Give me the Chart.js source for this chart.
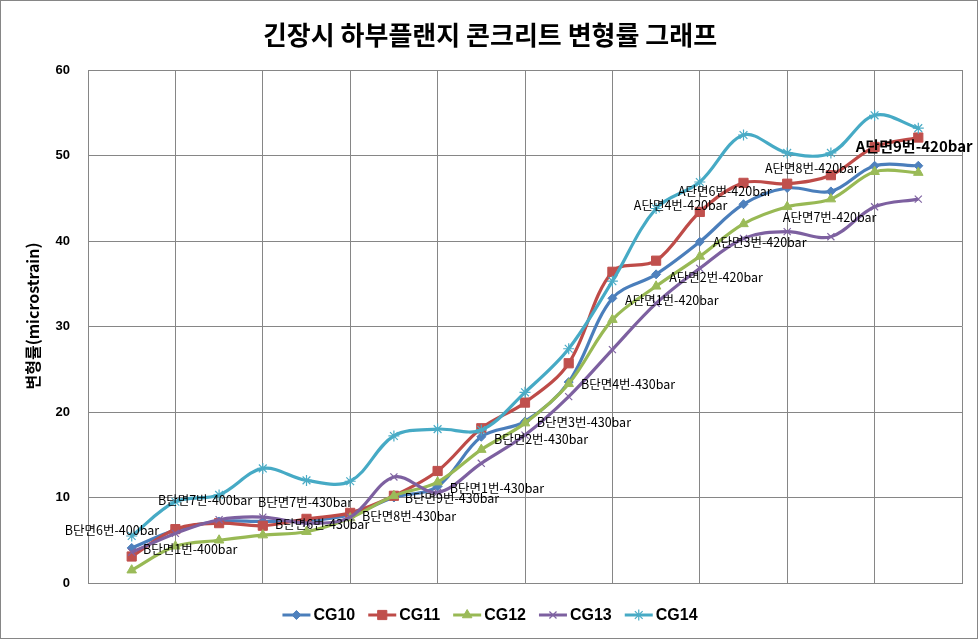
<!DOCTYPE html>
<html><head><meta charset="utf-8">
<script src="https://cdn.jsdelivr.net/npm/chart.js@4/dist/chart.umd.min.js"></script>
<style>html,body{margin:0;padding:0;background:#fff;}canvas{display:block}</style>
</head><body>
<canvas id="c" width="978" height="639"></canvas>
<script>
const chartTitle = '긴장시 하부플랜지 콘크리트 변형률 그래프';
const yAxisTitle = '변형률(microstrain)';
const seriesNames = ['CG10', 'CG11', 'CG12', 'CG13', 'CG14'];
const xPositions = [1, 2, 3, 4, 5, 6, 7, 8, 9, 10, 11, 12, 13, 14, 15, 16, 17, 18, 19];
const yTicks = [0, 10, 20, 30, 40, 50, 60];
const cg10 = [4.1, 6.2, 7.2, 7.2, 7.3, 8.0, 10.0, 11.3, 17.1, 18.9, 23.5, 33.3, 36.1, 39.9, 44.3, 46.2, 45.8, 48.8, 48.8];
const cg11 = [3.1, 6.3, 7.0, 6.7, 7.5, 8.2, 10.2, 13.1, 18.1, 21.1, 25.7, 36.4, 37.7, 43.4, 46.8, 46.7, 47.7, 51.0, 52.1];
const cg12 = [1.5, 4.3, 5.0, 5.6, 6.0, 7.6, 10.2, 11.8, 15.6, 18.7, 23.3, 30.8, 34.7, 38.2, 42.0, 44.0, 44.9, 48.1, 48.0];
const cg13 = [3.6, 5.8, 7.4, 7.7, 7.0, 7.7, 12.4, 10.6, 14.0, 17.3, 21.8, 27.3, 32.7, 36.8, 40.3, 41.1, 40.5, 44.0, 44.9];
const cg14 = [5.5, 9.5, 10.3, 13.4, 12.0, 11.9, 17.2, 18.0, 17.9, 22.3, 27.4, 35.3, 43.8, 46.9, 52.4, 50.3, 50.3, 54.7, 53.2];
const pointLabels = ['B단면6번-400bar', 'B단면1번-400bar', 'B단면7번-400bar', 'B단면7번-430bar', 'B단면6번-430bar',
  'B단면8번-430bar', 'B단면9번-430bar', 'B단면1번-430bar', 'B단면2번-430bar', 'B단면3번-430bar', 'B단면4번-430bar',
  'A단면1번-420bar', 'A단면2번-420bar', 'A단면3번-420bar', 'A단면4번-420bar', 'A단면6번-420bar', 'A단면7번-420bar',
  'A단면8번-420bar', 'A단면9번-420bar'];
// label anchors (left edge / vertical middle) in axis units
const labelAnchorX = [-0.53, 1.26, 1.60, 3.89, 4.28, 6.27, 7.25, 8.28, 9.29, 10.27, 11.28, 12.29, 13.30, 14.30, 12.49, 13.50, 15.90, 15.49, 17.57];
const labelAnchorY = [6.2, 3.9, 9.7, 9.4, 6.9, 7.8, 9.9, 11.1, 16.8, 18.8, 23.2, 33.1, 35.8, 39.8, 44.2, 45.8, 42.8, 48.5, 51.1];
const boldLabelIndex = 18;

const seriesValues = [cg10, cg11, cg12, cg13, cg14];
const lineColors = ['#4A7EBB', '#BE4B48', '#98B954', '#7D60A0', '#46AAC5'];
const markerColors = ['#4F81BD', '#C0504D', '#9BBB59', '#8064A2', '#4BACC6'];
const markerStyles = ['rectRot', 'rect', 'triangle', 'crossRot', 'star'];
const markerRadius = [4.5, 6.5, 5.5, 5, 5.5];
const markerBorder = [1, 1, 1, 1.2, 1.2];

const datasets = seriesNames.map((name, i) => ({
  label: name,
  data: xPositions.map((x, j) => ({ x: x, y: seriesValues[i][j] })),
  borderColor: lineColors[i],
  backgroundColor: markerColors[i],
  pointBackgroundColor: markerColors[i],
  pointBorderColor: markerColors[i],
  pointStyle: markerStyles[i],
  pointRadius: markerRadius[i],
  pointBorderWidth: markerBorder[i],
  borderWidth: 3.2,
  tension: 0.35,
  fill: false,
  order: 4 - i
}));

const FONT_KR = '"Noto Sans CJK KR", "Noto Sans", sans-serif';

const decor = {
  id: 'decor',
  beforeDraw(chart) {
    const ctx = chart.ctx;
    ctx.save();
    ctx.fillStyle = '#fff';
    ctx.fillRect(0, 0, chart.width, chart.height);
    ctx.restore();
  },
  afterDatasetsDraw(chart) {
    const ctx = chart.ctx;
    const xs = chart.scales.x, ys = chart.scales.y;
    ctx.save();
    ctx.fillStyle = '#000';
    ctx.textBaseline = 'middle';
    ctx.textAlign = 'left';
    pointLabels.forEach((t, i) => {
      ctx.font = (i === boldLabelIndex ? 'bold 15px ' : '12.5px ') + FONT_KR;
      ctx.fillText(t, xs.getPixelForValue(labelAnchorX[i]), ys.getPixelForValue(labelAnchorY[i]));
    });
    ctx.restore();
  },
  afterDraw(chart) {
    const ctx = chart.ctx;
    const area = chart.chartArea;
    ctx.save();
    // title
    ctx.fillStyle = '#000';
    ctx.font = 'bold 26px ' + FONT_KR;
    ctx.textAlign = 'center';
    ctx.textBaseline = 'middle';
    ctx.fillText(chartTitle, 490, 35);
    // y axis title
    ctx.save();
    ctx.translate(33, 316);
    ctx.rotate(-Math.PI / 2);
    ctx.font = 'bold 16px ' + FONT_KR;
    ctx.fillText(yAxisTitle, 0, 0);
    ctx.restore();
    // legend
    ctx.font = 'bold 16px "Liberation Sans", Arial, sans-serif';
    const lineLen = 28, gapText = 3, gapItem = 13;
    const widths = seriesNames.map(n => lineLen + gapText + ctx.measureText(n).width);
    const total = widths.reduce((a, b) => a + b, 0) + gapItem * (seriesNames.length - 1);
    let x = 490 - total / 2;
    const ly = 615;
    seriesNames.forEach((n, i) => {
      ctx.strokeStyle = lineColors[i];
      ctx.lineWidth = 3;
      ctx.beginPath();
      ctx.moveTo(x, ly);
      ctx.lineTo(x + lineLen, ly);
      ctx.stroke();
      ctx.fillStyle = markerColors[i];
      ctx.strokeStyle = markerColors[i];
      ctx.lineWidth = markerBorder[i];
      Chart.helpers.drawPoint(ctx, { pointStyle: markerStyles[i], radius: markerRadius[i], rotation: 0, borderWidth: markerBorder[i] }, x + lineLen / 2, ly);
      ctx.fillStyle = '#000';
      ctx.textAlign = 'left';
      ctx.fillText(n, x + lineLen + gapText, ly + 1);
      x += widths[i] + gapItem;
    });
    // chart border
    ctx.strokeStyle = '#868686';
    ctx.lineWidth = 1;
    ctx.strokeRect(0.5, 0.5, chart.width - 1, chart.height - 1);
    ctx.restore();
  }
};

new Chart(document.getElementById('c'), {
  type: 'line',
  data: { datasets: datasets },
  options: {
    responsive: false,
    animation: false,
    devicePixelRatio: 1,
    layout: { padding: { top: 70, right: 16, bottom: 56, left: 0 } },
    plugins: { legend: { display: false }, tooltip: { enabled: false }, title: { display: false } },
    scales: {
      x: {
        type: 'linear', min: 0, max: 20,
        ticks: { display: false, stepSize: 2 },
        grid: { color: '#868686', drawTicks: false, lineWidth: 1 },
        border: { color: '#868686' },
        afterFit(s) { s.height = 0; }
      },
      y: {
        min: 0, max: 60,
        afterBuildTicks(s) { s.ticks = yTicks.map(v => ({ value: v })); },
        ticks: { padding: 18, color: '#000', font: { family: '"Liberation Sans", Arial, sans-serif', weight: 'bold', size: 13 } },
        grid: { color: '#868686', drawTicks: false, lineWidth: 1 },
        border: { color: '#868686' },
        afterFit(s) { s.width = 88; }
      }
    }
  },
  plugins: [decor]
});
</script>
</body></html>
